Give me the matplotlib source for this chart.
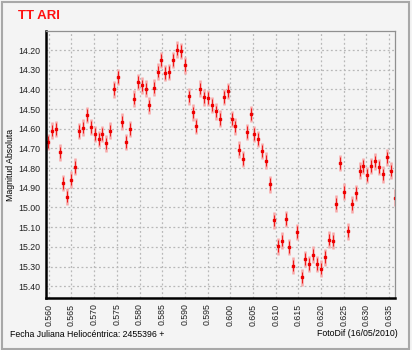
import matplotlib.pyplot as plt
from matplotlib.patches import Rectangle
import numpy as np

# fecha juliana heliocentrica (2455396 +) y magnitud
hjd = [0.5599, 0.5607, 0.5616, 0.5625, 0.5632, 0.5641, 0.5650, 0.5658,
       0.5667, 0.5675, 0.5684, 0.5693, 0.5701, 0.5710, 0.5718, 0.5727,
       0.5736, 0.5744, 0.5752, 0.5761, 0.5771, 0.5779, 0.5787, 0.5796,
       0.5805, 0.5814, 0.5822, 0.5831, 0.5840, 0.5848, 0.5857, 0.5865,
       0.5874, 0.5882, 0.5891, 0.5900, 0.5908, 0.5917, 0.5925, 0.5934,
       0.5942, 0.5951, 0.5960, 0.5969, 0.5977, 0.5986, 0.5995, 0.6003,
       0.6011, 0.6020, 0.6028, 0.6037, 0.6045, 0.6053, 0.6062, 0.6071,
       0.6079, 0.6088, 0.6096, 0.6105, 0.6113, 0.6122, 0.6130, 0.6139,
       0.6148, 0.6157, 0.6165, 0.6173, 0.6182, 0.6191, 0.6200, 0.6208,
       0.6217, 0.6226, 0.6234, 0.6242, 0.6250, 0.6259, 0.6268, 0.6276,
       0.6285, 0.6293, 0.6302, 0.6311, 0.6319, 0.6328, 0.6337, 0.6346,
       0.6354, 0.6362]
mag = [14.668, 14.609, 14.602, 14.720, 14.875, 14.945, 14.858, 14.793,
       14.612, 14.594, 14.529, 14.592, 14.626, 14.651, 14.626, 14.674,
       14.609, 14.399, 14.336, 14.563, 14.667, 14.602, 14.447, 14.362,
       14.379, 14.396, 14.481, 14.391, 14.309, 14.251, 14.316, 14.312,
       14.251, 14.197, 14.205, 14.277, 14.435, 14.517, 14.587, 14.396,
       14.440, 14.444, 14.478, 14.512, 14.549, 14.438, 14.409, 14.551,
       14.588, 14.706, 14.754, 14.617, 14.524, 14.626, 14.651, 14.714,
       14.762, 14.882, 15.066, 15.197, 15.168, 15.058, 15.202, 15.295,
       15.125, 15.355, 15.262, 15.287, 15.240, 15.287, 15.311, 15.253,
       15.163, 15.168, 14.980, 14.774, 14.920, 15.121, 14.984, 14.927,
       14.813, 14.788, 14.836, 14.788, 14.766, 14.795, 14.832, 14.745,
       14.812, 14.950]
err = 0.042

x_ticks = [0.560, 0.565, 0.570, 0.575, 0.580, 0.585, 0.590, 0.595,
           0.600, 0.605, 0.610, 0.615, 0.620, 0.625, 0.630, 0.635]
y_ticks = [14.2, 14.3, 14.4, 14.5, 14.6, 14.7, 14.8, 14.9,
           15.0, 15.1, 15.2, 15.3, 15.4]

plt.rcParams['font.family'] = ['Liberation Sans Narrow', 'Liberation Sans', 'DejaVu Sans']

bg = '#f4f4f4'
fig = plt.figure(figsize=(4.12, 3.5), dpi=100, facecolor=bg)
ax = fig.add_axes([0.1117, 0.1486, 0.847, 0.7628], facecolor=bg)

# barra rosa + linea roja fina
ax.errorbar(hjd, mag, yerr=err, fmt='none', ecolor='#f7a8a8', elinewidth=1.8, capsize=0)
ax.errorbar(hjd, mag, yerr=err * 0.7, fmt='s', color='#ee0000', ms=1.7,
            ecolor='#ee1818', elinewidth=0.7, capsize=0)

ax.set_xlim(0.5594, 0.6363)
ax.set_ylim(15.46, 14.103)
ax.set_xticks(x_ticks)
ax.set_xticklabels(['%.3f' % t for t in x_ticks], rotation=90)
ax.set_yticks(y_ticks)
ax.set_yticklabels(['%.2f' % t for t in y_ticks])
ax.tick_params(labelsize=6.3, length=0, pad=4, colors='#202020')
ax.grid(True, color='#b8b8b8', linestyle=(0, (1.5, 2)), linewidth=0.9)

for s in ['top', 'right']:
    ax.spines[s].set_color('#909090')
    ax.spines[s].set_linewidth(0.9)
for s in ['left', 'bottom']:
    ax.spines[s].set_color('black')
    ax.spines[s].set_linewidth(1.8)

ax.set_ylabel('Magnitud Absoluta', fontsize=6.3)
ax.yaxis.set_label_coords(-0.088, 0.5)

fig.text(0.043, 0.955, 'TT ARI', color='#ff1010', fontsize=9.5, fontweight='bold', va='center',
         family=['Liberation Sans', 'DejaVu Sans'])
fig.text(0.025, 0.045, 'Fecha Juliana Heliocéntrica: 2455396 +', fontsize=6.3, va='center')
fig.text(0.77, 0.048, 'FotoDif (16/05/2010)', fontsize=6.3, va='center')

fig.patches.append(Rectangle((0.004, 0.004), 0.988, 0.99, transform=fig.transFigure,
                             fill=False, edgecolor='#a8a8a8', linewidth=1.5))

fig.savefig('out.png', dpi=100, facecolor=bg)
